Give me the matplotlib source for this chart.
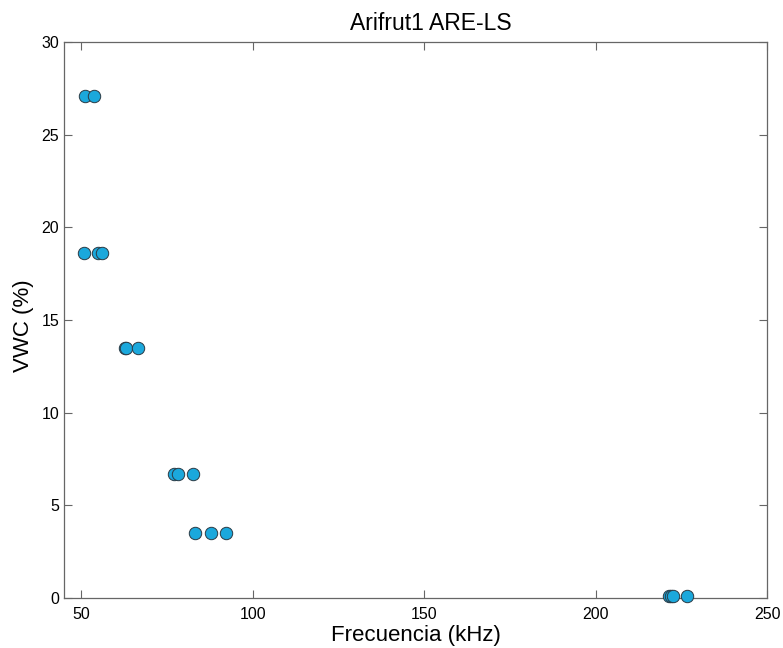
import matplotlib
matplotlib.use("Agg")
import matplotlib.pyplot as plt

plt.rcParams['font.family'] = ['Liberation Sans', 'DejaVu Sans']

freq_khz = [51.0, 53.8,
            50.7, 54.8, 56.1,
            62.8, 63.0, 66.7,
            77.0, 78.2, 82.5,
            83.3, 87.9, 92.3,
            221.3, 221.8, 222.4, 226.6]
vwc_pct = [27.1, 27.1,
           18.6, 18.6, 18.6,
           13.5, 13.5, 13.5,
           6.7, 6.7, 6.7,
           3.5, 3.5, 3.5,
           0.1, 0.1, 0.1, 0.1]
x_ticks = [50, 100, 150, 200, 250]
y_ticks = [0, 5, 10, 15, 20, 25, 30]

fig = plt.figure(figsize=(7.83, 6.48), dpi=100)
ax = fig.add_axes([0.0817, 0.0772, 0.8983, 0.8578])
ax.scatter(freq_khz, vwc_pct, s=80, c='#1ba8dc', edgecolors='#2b3a44',
           linewidths=0.7, zorder=3, clip_on=False)
ax.set_xlim(45, 250)
ax.set_ylim(0, 30)
ax.set_xticks(x_ticks)
ax.set_yticks(y_ticks)
ax.tick_params(direction='in', length=5.5, width=0.8, color='#666666',
               labelsize=11.5, top=True, right=True)
ax.tick_params(axis='x', pad=6.5)
ax.tick_params(axis='y', pad=3.5)
for s in ax.spines.values():
    s.set_color('#666666')
    s.set_linewidth(0.9)
ax.set_xlabel('Frecuencia (kHz)', fontsize=16, labelpad=2)
ax.set_ylabel('VWC (%)', fontsize=16, labelpad=3)
ax.yaxis.set_label_coords(-0.043, 0.49)
ax.set_title('Arifrut1 ARE-LS', fontsize=16.5, pad=9, x=0.522)
fig.savefig('out.png', dpi=100)
